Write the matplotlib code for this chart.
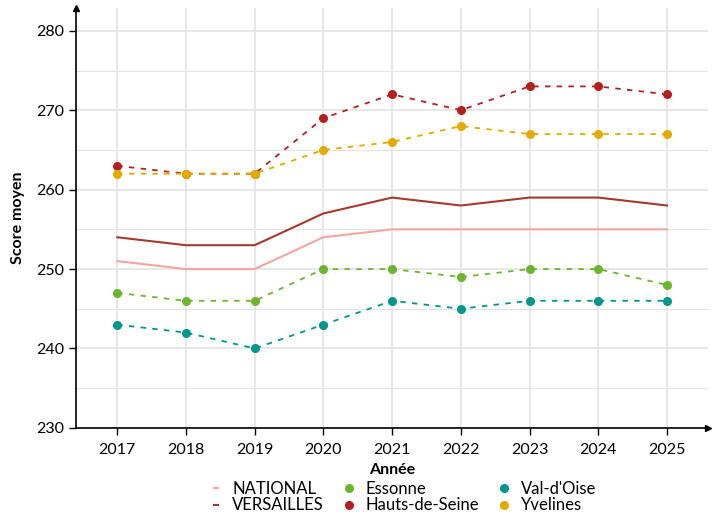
import matplotlib
matplotlib.use("Agg")
import matplotlib.pyplot as plt
from matplotlib.lines import Line2D

plt.rcParams['font.family'] = ['Lato', 'DejaVu Sans']

years = [2017, 2018, 2019, 2020, 2021, 2022, 2023, 2024, 2025]
national = [251, 250, 250, 254, 255, 255, 255, 255, 255]
versailles = [254, 253, 253, 257, 259, 258, 259, 259, 258]
essonne = [247, 246, 246, 250, 250, 249, 250, 250, 248]
hauts_de_seine = [263, 262, 262, 269, 272, 270, 273, 273, 272]
val_doise = [243, 242, 240, 243, 246, 245, 246, 246, 246]
yvelines = [262, 262, 262, 265, 266, 268, 267, 267, 267]
y_ticks = [230, 240, 250, 260, 270, 280]

c_nat = '#f4a5a0'
c_ver = '#a33a2c'
c_ess = '#6db52f'
c_hds = '#b3201f'
c_vdo = '#00968a'
c_yve = '#e3aa00'

fig = plt.figure(figsize=(7.2, 5.18), dpi=100)
ax = fig.add_axes([0.1056, 0.174, 0.878, 0.811])

for v in years:
    ax.axvline(v, color='#e3e3e3', lw=1.2, zorder=0)
for v in range(230, 285, 5):
    ax.axhline(v, color='#e3e3e3', lw=1.2 if v % 10 == 0 else 0.8, zorder=0)

ax.plot(years, national, color=c_nat, lw=1.5, zorder=3)
ax.plot(years, versailles, color=c_ver, lw=1.5, zorder=3)
for data, col in [(essonne, c_ess), (hauts_de_seine, c_hds), (val_doise, c_vdo), (yvelines, c_yve)]:
    ax.plot(years, data, color=col, lw=1.3, ls=(0, (3, 3.5)), marker='o', ms=5.5, zorder=4)

ax.set_xlim(2016.4, 2025.6)
ax.set_ylim(230, 282.9)
ax.set_xticks(years)
ax.set_yticks(y_ticks)
ax.tick_params(axis='both', labelsize=11.5, direction='out', length=5, width=1, colors='black')
ax.tick_params(axis='x', pad=6)
for s in ['top', 'right']:
    ax.spines[s].set_visible(False)
for s in ['left', 'bottom']:
    ax.spines[s].set_color('black')
    ax.spines[s].set_linewidth(1.2)

ax.plot(1, 0, '>k', ms=5, transform=ax.transAxes, clip_on=False)
ax.plot(0, 1, '^k', ms=5, transform=ax.transAxes, clip_on=False)

ax.set_xlabel('Année', fontsize=11.5, fontweight='bold', labelpad=4)
ax.set_ylabel('Score moyen', fontsize=11.5, fontweight='bold', labelpad=8)

handles = [
    Line2D([], [], color=c_nat, marker='_', ls='none', ms=4, mew=1.5),
    Line2D([], [], color=c_ver, marker='_', ls='none', ms=4, mew=1.5),
    Line2D([], [], color=c_ess, marker='o', ls='none', ms=5.5),
    Line2D([], [], color=c_hds, marker='o', ls='none', ms=5.5),
    Line2D([], [], color=c_vdo, marker='o', ls='none', ms=5.5),
    Line2D([], [], color=c_yve, marker='o', ls='none', ms=5.5),
]
labels = ['NATIONAL', 'VERSAILLES', 'Essonne', 'Hauts-de-Seine', "Val-d'Oise", 'Yvelines']
fig.legend(handles, labels, ncol=3, loc='lower center', bbox_to_anchor=(0.558, -0.02),
           frameon=False, fontsize=12, handlelength=1.0, handletextpad=0.5,
           columnspacing=1.0, labelspacing=0.02)

fig.savefig('out.png', dpi=100)
